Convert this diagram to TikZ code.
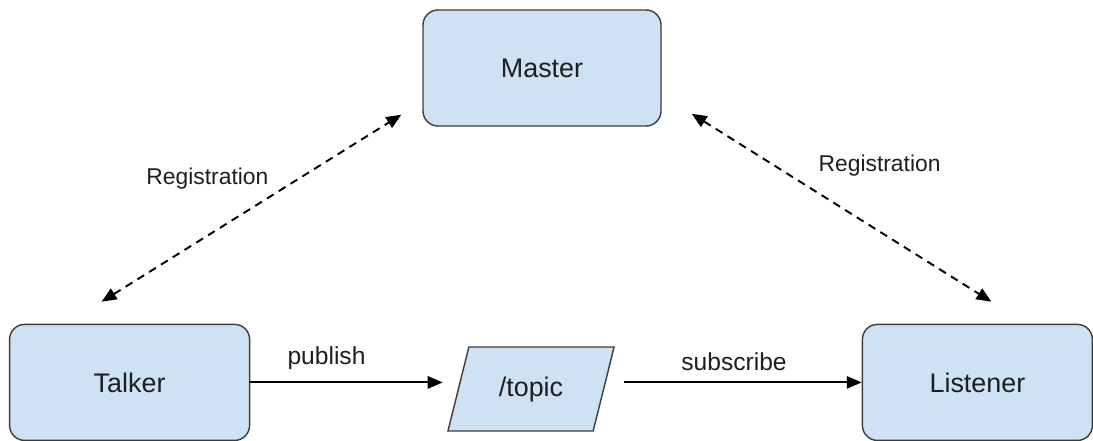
\documentclass[tikz,border=0pt]{standalone}
\usepackage{fontspec}
\setmainfont{Liberation Sans}
\usepackage{tikz}
\usetikzlibrary{positioning, arrows.meta, shapes.geometric}

\definecolor{boxblue}{HTML}{CFE2F3}
\definecolor{boxline}{HTML}{3C3C3C}
\definecolor{inkdark}{HTML}{1E1E1E}

\tikzset{
	rosnode/.style={draw=boxline, fill=boxblue, line width=0.8pt, rounded corners=0.3cm,
		minimum width=4.76cm, minimum height=2.32cm, text=inkdark, text centered,
		font=\fontsize{15.3}{18}\selectfont},
	topicnode/.style={draw=boxline, fill=boxblue, line width=0.8pt, shape=trapezium,
		trapezium left angle=76, trapezium right angle=104,
		text height=0.4cm, text depth=0.1cm, inner ysep=0.59cm, inner xsep=0.6cm,
		text=inkdark, text centered, font=\fontsize{15.3}{18}\selectfont},
	msg/.style={line width=1.1pt, -{Triangle[length=8.5pt, width=7pt]}},
	reg/.style={line width=1.1pt, dash pattern=on 4.5pt off 3.4pt,
		{Triangle[length=8.5pt, width=7pt]}-{Triangle[length=8.5pt, width=7pt]}},
	reglabel/.style={text=inkdark, font=\fontsize{13}{15}\selectfont},
	msglabel/.style={text=inkdark, font=\fontsize{14}{16}\selectfont}
}

\begin{document}
\begin{tikzpicture}[node distance=3.94cm]

		\useasboundingbox (0,0) rectangle (21.86,-8.8);

		% nodes - master on top, talker and listener below %
		\node[rosnode] (master) at (10.84,-1.36) {Master};
		\node[rosnode, minimum width=4.8cm, below left=3.94cm and 3.44cm of master] (talker) {Talker};
		\node[rosnode, minimum width=4.6cm, below right=3.94cm and 4.0cm of master] (listener) {Listener};
		\node[topicnode] (topic) at (10.62,-7.78) {/topic};

		% edges %
		\draw[msg] (talker.east) -- ([xshift=-0.3cm]talker.east -| topic.west)
			node[msglabel, midway, above, xshift=-0.4cm, yshift=0.12cm] {publish};
		\draw[msg] ([xshift=0.4cm]topic.east |- listener.west) -- (listener.west)
			node[msglabel, midway, above, xshift=-0.18cm, yshift=0.1cm] {subscribe};
		\draw[reg] ([xshift=-0.56cm, yshift=0.44cm]talker.north) -- ([xshift=-0.42cm, yshift=0.24cm]master.south west)
			node[reglabel, midway, shift={(-0.88,0.6)}] {Registration};
		\draw[reg] ([xshift=0.6cm, yshift=0.26cm]master.south east) -- ([xshift=0.28cm, yshift=0.44cm]listener.north)
			node[reglabel, midway, shift={(0.76,0.84)}] {Registration};
		\end{tikzpicture}
\end{document}
